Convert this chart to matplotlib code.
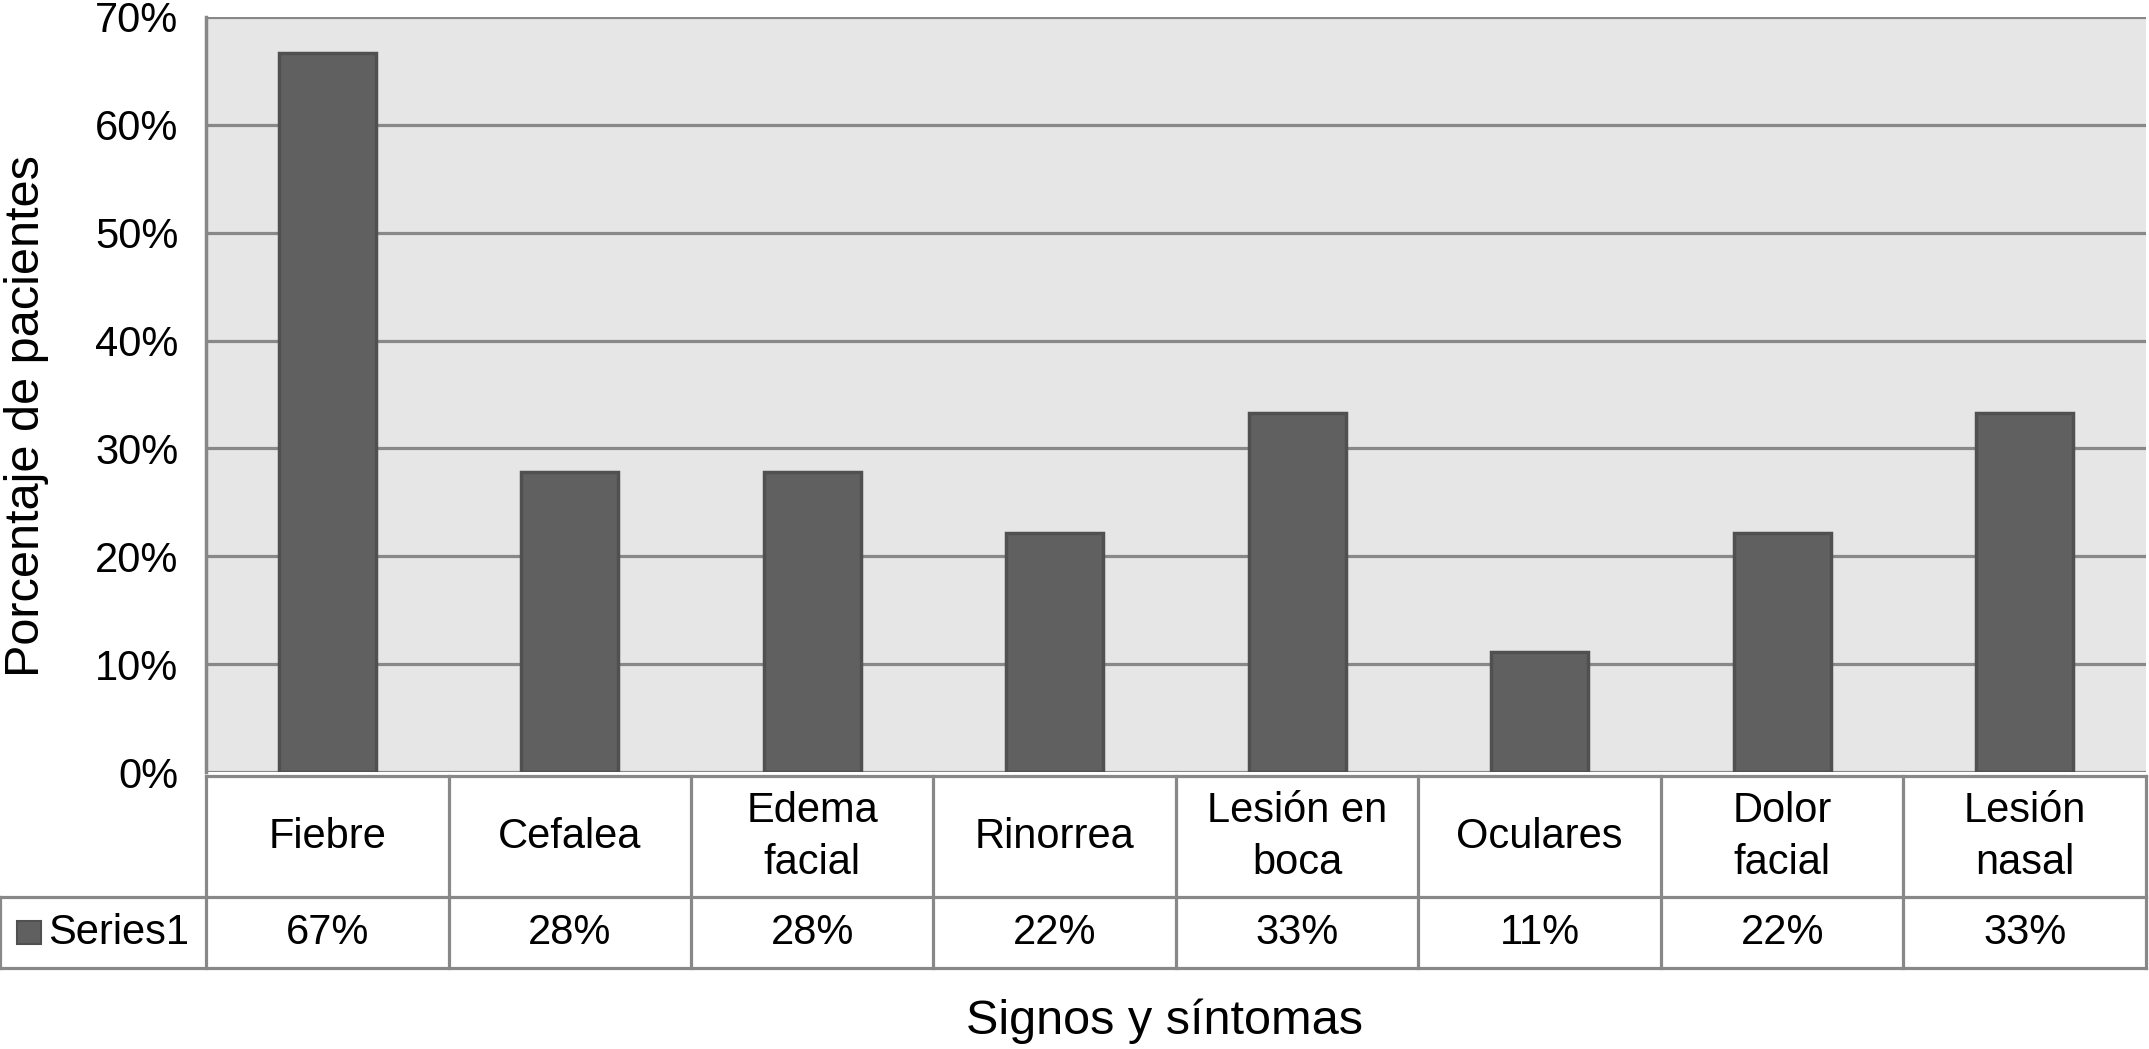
import numpy as np
import matplotlib.pyplot as plt
from matplotlib.patches import Rectangle

categories = ['Fiebre', 'Cefalea', 'Edema\nfacial', 'Rinorrea', 'Lesión en\nboca',
              'Oculares', 'Dolor\nfacial', 'Lesión\nnasal']
values = [66.7, 27.8, 27.8, 22.2, 33.3, 11.1, 22.2, 33.3]
value_labels = ['67%', '28%', '28%', '22%', '33%', '11%', '22%', '33%']
series_name = 'Series1'
yticks = [0, 10, 20, 30, 40, 50, 60, 70]

plt.rcParams['font.family'] = ['Liberation Sans', 'DejaVu Sans']

W, H = 2149, 1049
fig = plt.figure(figsize=(W / 100, H / 100), dpi=100)

bar_color = '#606060'
edge_color = '#505050'
grid_color = '#888888'
fs = 30

# plot area (pixel positions converted to figure fractions)
left, right = 206 / W, 2146 / W
top, bottom = 1 - 17 / H, 1 - 772 / H
ax = fig.add_axes([left, bottom, right - left, top - bottom])
ax.set_facecolor('#e6e6e6')
x = np.arange(len(categories))
ax.bar(x, values, width=0.4, color=bar_color, edgecolor=edge_color, linewidth=2.5, zorder=3)
ax.set_xlim(-0.5, len(categories) - 0.5)
ax.set_ylim(0, 70)
ax.set_yticks(yticks)
ax.set_yticklabels([f'{v}%' for v in yticks], fontsize=fs)
ax.tick_params(axis='y', length=0, pad=20)
ax.tick_params(axis='x', length=0, labelbottom=False)
for v in yticks:
    ax.axhline(v, color=grid_color, lw=2.3, zorder=1)
for s in ['top', 'right', 'bottom']:
    ax.spines[s].set_visible(False)
ax.spines['left'].set_color(grid_color)
ax.spines['left'].set_linewidth(2.5)

# data table below
col_w = (right - left) / len(categories)
leg_w = left / col_w
tb_bottom = 1 - 968 / H
tb_top = 1 - 776 / H
tab = fig.add_axes([0, tb_bottom, right, tb_top - tb_bottom])
tab.set_xlim(-0.5 - leg_w, len(categories) - 0.5)
tab.set_ylim(0, 192)
tab.axis('off')
lw = 2.3
n = len(categories)
tab.plot([-0.5, n - 0.5], [192, 192], color=grid_color, lw=lw, clip_on=False)
tab.plot([-0.5 - leg_w, n - 0.5], [71, 71], color=grid_color, lw=lw, clip_on=False)
tab.plot([-0.5 - leg_w, n - 0.5], [0, 0], color=grid_color, lw=lw, clip_on=False)
tab.plot([-0.5 - leg_w, -0.5 - leg_w], [0, 71], color=grid_color, lw=lw, clip_on=False)
for i in range(n + 1):
    tab.plot([i - 0.5, i - 0.5], [0, 192], color=grid_color, lw=lw, clip_on=False)
for i, (c, vl) in enumerate(zip(categories, value_labels)):
    tab.text(i, 131, c, ha='center', va='center', fontsize=fs, linespacing=1.4)
    tab.text(i, 35, vl, ha='center', va='center', fontsize=fs)
tab.add_patch(Rectangle((-0.5 - leg_w + 0.07, 24), 0.1, 23, facecolor=bar_color,
                        edgecolor=edge_color, lw=1.5, clip_on=False))
tab.text(-0.5 - leg_w + 0.2, 35, series_name, ha='left', va='center', fontsize=fs)

fig.text(1165 / W, 1 - 1021 / H, 'Signos y síntomas', ha='center', va='center', fontsize=35)
fig.text(27 / W, 1 - 416 / H, 'Porcentaje de pacientes', ha='center', va='center',
         rotation=90, fontsize=35)

fig.savefig('out.png', dpi=100)
